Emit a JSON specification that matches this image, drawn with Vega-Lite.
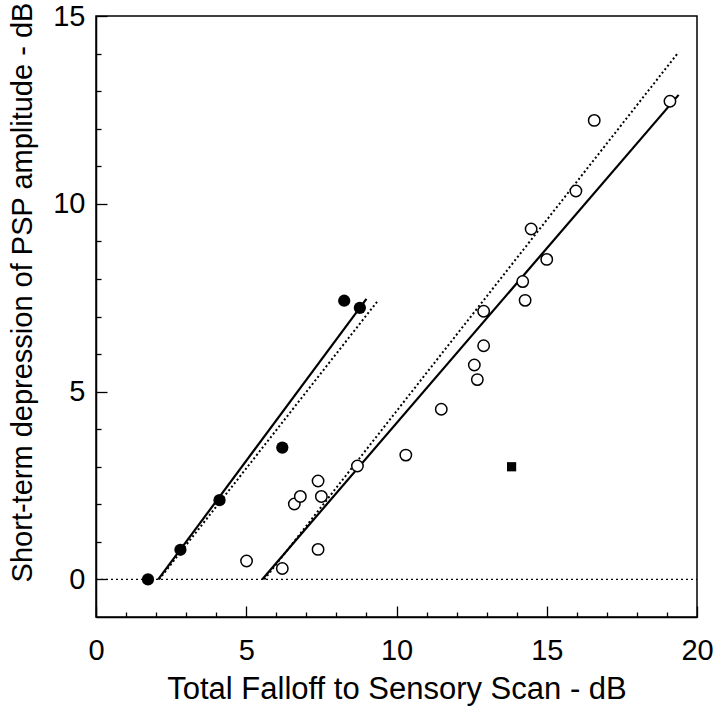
{
  "$schema": "https://vega.github.io/schema/vega-lite/v6.json",
  "width": 601,
  "height": 601,
  "autosize": "none",
  "padding": {"left": 96, "top": 16, "right": 23, "bottom": 91},
  "background": "white",
  "config": {
    "font": "Liberation Sans",
    "view": {"stroke": "black", "strokeWidth": 1.5},
    "axis": {
      "grid": false,
      "domainColor": "black",
      "domainWidth": 1.5,
      "tickColor": "black",
      "tickWidth": 1.3,
      "labelColor": "black",
      "titleColor": "black",
      "labelFont": "Liberation Sans",
      "titleFont": "Liberation Sans",
      "labelFontSize": 29,
      "titleFontSize": 31,
      "titleFontWeight": "normal",
      "labelFlush": false,
      "labelOverlap": false
    },
    "axisX": {"labelOverlap": false}
  },
  "datasets": {
    "points": [
      {"x": 1.73, "y": 0.0, "kind": "filled"},
      {"x": 2.81, "y": 0.79, "kind": "filled"},
      {"x": 4.11, "y": 2.11, "kind": "filled"},
      {"x": 6.2, "y": 3.51, "kind": "filled"},
      {"x": 8.26, "y": 7.42, "kind": "filled"},
      {"x": 8.78, "y": 7.23, "kind": "filled"},
      {"x": 5.01, "y": 0.49, "kind": "open"},
      {"x": 6.2, "y": 0.29, "kind": "open"},
      {"x": 6.6, "y": 2.01, "kind": "open"},
      {"x": 6.8, "y": 2.21, "kind": "open"},
      {"x": 7.39, "y": 2.62, "kind": "open"},
      {"x": 7.5, "y": 2.21, "kind": "open"},
      {"x": 7.39, "y": 0.8, "kind": "open"},
      {"x": 8.7, "y": 3.02, "kind": "open"},
      {"x": 10.31, "y": 3.31, "kind": "open"},
      {"x": 11.49, "y": 4.53, "kind": "open"},
      {"x": 12.69, "y": 5.32, "kind": "open"},
      {"x": 12.59, "y": 5.71, "kind": "open"},
      {"x": 12.9, "y": 6.22, "kind": "open"},
      {"x": 12.9, "y": 7.14, "kind": "open"},
      {"x": 14.28, "y": 7.43, "kind": "open"},
      {"x": 14.2, "y": 7.93, "kind": "open"},
      {"x": 15.0, "y": 8.52, "kind": "open"},
      {"x": 14.48, "y": 9.33, "kind": "open"},
      {"x": 15.97, "y": 10.34, "kind": "open"},
      {"x": 16.58, "y": 12.22, "kind": "open"},
      {"x": 19.1, "y": 12.73, "kind": "open"},
      {"x": 13.83, "y": 3.0, "kind": "square"}
    ],
    "lines": [
      {"id": "a_solid", "style": "solid", "x": 2.07, "y": 0},
      {"id": "a_solid", "style": "solid", "x": 9.0, "y": 7.47},
      {"id": "a_dot", "style": "dot", "x": 2.1, "y": 0},
      {"id": "a_dot", "style": "dot", "x": 9.38, "y": 7.42},
      {"id": "b_solid", "style": "solid", "x": 5.53, "y": 0},
      {"id": "b_solid", "style": "solid", "x": 19.39, "y": 12.9},
      {"id": "b_dot", "style": "dot", "x": 5.6, "y": 0},
      {"id": "b_dot", "style": "dot", "x": 19.39, "y": 14.04}
    ],
    "zero": [{"x": 0, "y": 0}, {"x": 20, "y": 0}]
  },
  "encoding": {
    "x": {
      "field": "x", "type": "quantitative",
      "scale": {"domain": [0, 20], "nice": false, "zero": false},
      "axis": {
        "title": "Total Falloff to Sensory Scan - dB",
        "values": [0,1,2,3,4,5,6,7,8,9,10,11,12,13,14,15,16,17,18,19,20],
        "labelExpr": "datum.value % 5 === 0 ? datum.label : ''",
        "labelOverlap": false,
        "labelBound": false,
        "tickSize": {"condition": {"test": "datum.value % 5 === 0", "value": -11}, "value": -5},
        "labelPadding": 30,
        "titlePadding": 3
      }
    },
    "y": {
      "field": "y", "type": "quantitative",
      "scale": {"domain": [-1, 15], "nice": false, "zero": false},
      "axis": {
        "title": "Short-term depression of PSP amplitude - dB",
        "titleFontSize": 29,
        "titleY": 276,
        "values": [0,1,2,3,4,5,6,7,8,9,10,11,12,13,14,15],
        "labelExpr": "datum.value % 5 === 0 ? datum.label : ''",
        "labelOverlap": false,
        "labelBound": false,
        "tickSize": {"condition": {"test": "datum.value % 5 === 0", "value": -11}, "value": -5},
        "labelPadding": 22,
        "titlePadding": 15
      }
    }
  },
  "layer": [
    {
      "data": {"name": "zero"},
      "mark": {"type": "line", "color": "black", "strokeWidth": 1.3, "strokeDash": [2, 3]}
    },
    {
      "data": {"name": "lines"},
      "transform": [{"filter": "datum.style === 'solid'"}],
      "mark": {"type": "line", "color": "black", "strokeWidth": 2.2},
      "encoding": {"detail": {"field": "id"}}
    },
    {
      "data": {"name": "lines"},
      "transform": [{"filter": "datum.style === 'dot'"}],
      "mark": {"type": "line", "color": "black", "strokeWidth": 2, "strokeDash": [2, 2.5]},
      "encoding": {"detail": {"field": "id"}}
    },
    {
      "data": {"name": "points"},
      "transform": [{"filter": "datum.kind === 'open'"}],
      "mark": {"type": "point", "shape": "circle", "filled": false, "color": "black", "fill": "white", "fillOpacity": 1, "strokeWidth": 1.5, "size": 130, "opacity": 1}
    },
    {
      "data": {"name": "points"},
      "transform": [{"filter": "datum.kind === 'filled'"}],
      "mark": {"type": "point", "shape": "circle", "filled": true, "color": "black", "size": 150, "opacity": 1}
    },
    {
      "data": {"name": "points"},
      "transform": [{"filter": "datum.kind === 'square'"}],
      "mark": {"type": "point", "shape": "square", "filled": true, "color": "black", "size": 85, "opacity": 1}
    }
  ]
}
